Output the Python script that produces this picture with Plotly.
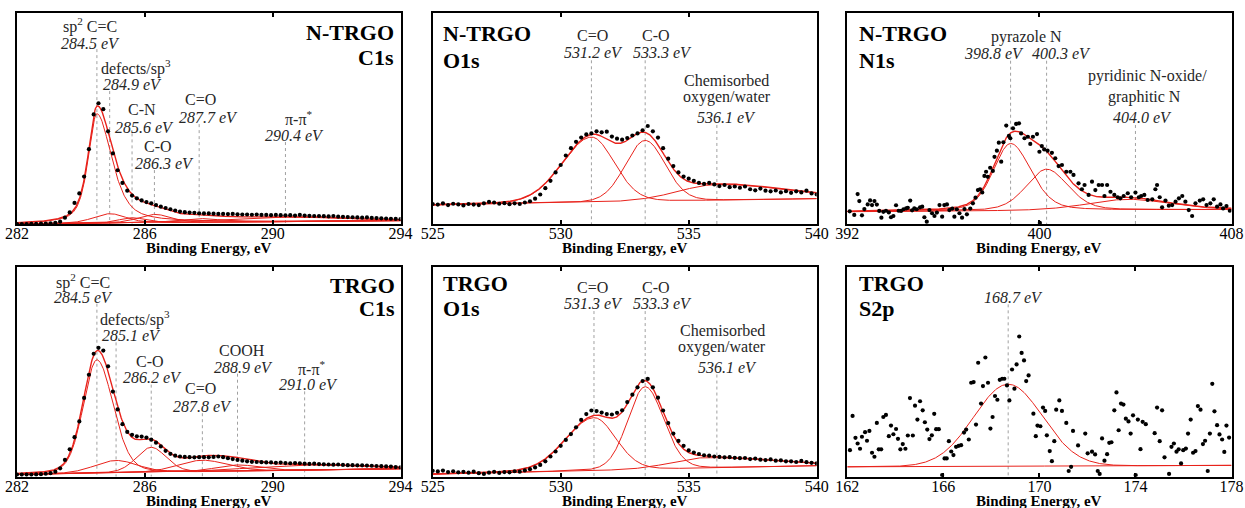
import numpy as np
import plotly.graph_objects as go

FONT = "Liberation Serif"
RED = "#e8221b"
TXT = "#262626"

# ---------------- measured spectra (intensity in % of panel height) ----------------
C1S_X = np.round(np.arange(282.0, 294.0 + 1e-9, 0.15), 2)
O1S_X = np.round(np.arange(525.0, 540.0 + 1e-9, 0.2), 2)

NTRGO_C1S_Y = [0.0, 0.0, 0.0, 0.1, 0.1, 0.2, 0.2, 0.3, 0.6, 1.1,
               3.0, 5.5, 10.0, 14.5, 22.5, 35.5, 52.0, 57.3, 54.5, 44.0,
               33.5, 25.5, 19.5, 15.8, 13.5, 12.2, 11.2, 10.4, 9.8, 9.0,
               8.2, 7.6, 7.0, 6.4, 5.9, 5.6, 5.4, 5.3, 5.1, 5.0,
               5.0, 4.9, 4.8, 4.8, 4.7, 4.8, 4.6, 4.5, 4.5, 4.4,
               4.5, 4.3, 4.3, 4.2, 4.3, 4.2, 4.1, 4.2, 4.0, 4.3,
               4.0, 3.9, 3.8, 3.8, 3.7, 3.6, 3.8, 3.5, 3.4, 3.3,
               3.2, 3.1, 3.0, 3.1, 2.9, 2.8, 2.7, 2.6, 2.5, 2.4,
               2.3]

TRGO_C1S_Y = [1.0, 1.0, 1.0, 1.0, 1.1, 1.2, 1.4, 1.7, 2.4, 4.0,
              8.0, 13.0, 18.8, 26.3, 37.5, 48.5, 58.5, 61.3, 60.0, 52.5,
              40.5, 32.0, 25.0, 21.3, 19.9, 19.2, 19.1, 18.6, 17.6, 16.2,
              14.4, 12.3, 10.9, 10.0, 9.6, 9.4, 9.3, 9.2, 9.3, 9.3,
              9.2, 9.4, 9.6, 9.3, 8.8, 8.4, 8.0, 7.6, 7.3, 7.1,
              7.0, 6.9, 6.8, 6.8, 6.6, 6.7, 6.5, 6.4, 6.5, 6.4,
              6.2, 6.1, 6.2, 6.0, 5.9, 5.8, 5.7, 5.8, 5.6, 5.5,
              5.5, 5.4, 5.4, 5.3, 5.2, 5.1, 5.0, 4.9, 4.8, 4.6,
              4.4]

NTRGO_O1S_Y = [9.5, 9.2, 9.8, 9.0, 9.6, 9.3, 8.8, 9.5, 9.2, 9.0,
               9.8, 10.5, 10.2, 9.6, 9.9, 9.4, 9.8, 9.5, 10.2, 10.8,
               12.0, 14.0, 17.0, 20.5, 24.5, 28.0, 32.5, 36.0, 39.0, 41.0,
               42.5, 43.0, 44.0, 43.5, 43.8, 41.5, 40.5, 40.0, 40.8, 42.0,
               43.0, 44.5, 46.5, 44.0, 41.0, 36.0, 31.0, 27.5, 24.5, 22.5,
               21.5, 20.5, 19.5, 19.0, 19.5, 18.8, 18.0, 18.5, 17.5, 17.8,
               17.2, 17.8, 16.5, 16.0, 16.8, 15.8, 15.5, 15.9, 15.0, 15.6,
               14.8, 15.5, 15.0, 15.8, 14.5, 14.0]

TRGO_O1S_Y = [2.8, 2.5, 2.9, 2.2, 2.6, 2.1, 2.3, 1.9, 2.4, 1.7,
              1.3, 1.9, 2.3, 1.8, 2.2, 2.1, 2.6, 2.4, 3.0, 3.6,
              4.4, 5.6, 7.3, 9.6, 12.0, 14.7, 17.5, 20.3, 23.5, 27.0,
              29.8, 31.5, 31.2, 30.5, 29.8, 29.6, 30.4, 31.6, 35.5, 39.0,
              42.5, 45.5, 46.5, 42.5, 37.6, 31.5, 25.5, 20.5, 17.0, 14.7,
              12.5, 11.5, 10.8, 10.2, 10.0, 9.6, 9.4, 9.2, 9.3, 9.0,
              8.8, 8.9, 8.4, 8.6, 8.1, 7.9, 8.2, 7.6, 7.8, 7.3,
              7.3, 7.0, 7.5, 6.9, 6.6, 6.3]

N1S_X = [392.1, 392.29, 392.43, 392.5, 392.61, 392.71, 392.85, 392.95, 393.03, 393.13,
         393.23, 393.33, 393.42, 393.5, 393.61, 393.73, 393.82, 393.92, 394.03, 394.14,
         394.24, 394.34, 394.45, 394.52, 394.62, 394.7, 394.79, 394.89, 395.03, 395.12,
         395.21, 395.31, 395.42, 395.53, 395.63, 395.73, 395.84, 395.95, 396.04, 396.15,
         396.25, 396.37, 396.46, 396.56, 396.67, 396.78, 396.88, 396.98, 397.12, 397.23,
         397.34, 397.44, 397.53, 397.62, 397.71, 397.78, 397.85, 397.95, 398.06, 398.13,
         398.23, 398.31, 398.41, 398.5, 398.62, 398.73, 398.79, 398.9, 399.03, 399.15,
         399.24, 399.38, 399.52, 399.62, 399.73, 399.9, 400.0, 400.02, 400.1, 400.2,
         400.34, 400.52, 400.66, 400.8, 400.94, 401.12, 401.29, 401.42, 401.63, 401.77,
         401.88, 402.05, 402.19, 402.33, 402.47, 402.61, 402.71, 402.82, 402.96, 403.12,
         403.26, 403.37, 403.51, 403.68, 403.82, 404.0, 404.14, 404.24, 404.37, 404.51,
         404.7, 404.83, 404.9, 405.01, 405.11, 405.25, 405.39, 405.53, 405.67, 405.81,
         405.95, 406.08, 406.22, 406.36, 406.5, 406.68, 406.82, 406.96, 407.12, 407.26,
         407.4, 407.54, 407.65, 407.79, 407.93]
N1S_Y = [6.0, 4.3, 14.2, 10.9, 4.1, 7.1, 9.3, 11.2, 9.0, 10.9,
         9.2, 6.2, 3.0, 5.8, 6.3, 5.5, 3.2, 3.8, 8.9, 6.3,
         6.2, 7.0, 7.4, 7.7, 11.1, 6.5, 7.4, 7.0, 7.9, 8.2,
         3.2, 1.1, 6.6, 5.1, 3.8, 5.4, 9.0, 3.5, 9.0, 9.3,
         6.6, 7.3, 3.5, 7.0, 5.1, 3.0, 7.1, 4.6, 7.3, 9.8,
         12.5, 16.1, 16.5, 15.0, 22.8, 24.8, 22.4, 26.7, 25.2, 31.9,
         34.8, 38.6, 29.6, 38.8, 46.7, 41.8, 40.7, 45.4, 47.5, 47.8,
         43.0, 40.7, 41.4, 38.0, 41.4, 42.7, 34.3, 0.6, 37.0, 35.4,
         34.8, 33.8, 31.2, 27.5, 28.0, 24.8, 24.8, 23.3, 19.3, 16.5,
         18.5, 13.8, 20.1, 16.1, 18.5, 18.5, 13.3, 18.5, 15.3, 13.8,
         12.7, 12.2, 13.3, 14.6, 12.7, 14.9, 12.7, 13.3, 13.8, 11.4,
         11.7, 16.5, 18.5, 12.7, 7.9, 11.1, 8.7, 9.0, 10.6, 12.2,
         13.3, 10.6, 6.6, 3.8, 9.8, 11.1, 11.7, 9.0, 9.8, 11.7,
         8.2, 9.3, 7.4, 8.5, 6.3]

S2P_X = [162.11, 162.22, 162.34, 162.43, 162.53, 162.61, 162.74, 162.82, 162.92, 163.03,
         163.13, 163.23, 163.31, 163.41, 163.5, 163.61, 163.73, 163.82, 163.92, 164.03,
         164.11, 164.21, 164.31, 164.42, 164.52, 164.61, 164.73, 164.82, 164.92, 165.03,
         165.14, 165.23, 165.33, 165.42, 165.52, 165.62, 165.7, 165.81, 165.95, 166.05,
         166.14, 166.23, 166.33, 166.42, 166.53, 166.64, 166.74, 166.86, 166.95, 167.06,
         167.16, 167.26, 167.36, 167.45, 167.57, 167.65, 167.75, 167.86, 167.96, 168.05,
         168.15, 168.25, 168.35, 168.45, 168.54, 168.65, 168.75, 168.86, 168.96, 169.05,
         169.16, 169.26, 169.36, 169.45, 169.55, 169.75, 169.85, 169.92, 170.04, 170.15,
         170.24, 170.31, 170.43, 170.52, 170.62, 170.7, 170.83, 170.94, 171.12, 171.22,
         171.32, 171.4, 171.61, 171.91, 172.01, 172.19, 172.32, 172.43, 172.51, 172.61,
         172.71, 172.82, 172.91, 173.0, 173.12, 173.21, 173.3, 173.4, 173.5, 173.6,
         173.71, 173.8, 173.9, 174.01, 174.1, 174.21, 174.3, 174.43, 174.8, 174.9,
         175.01, 175.11, 175.21, 175.4, 175.5, 175.6, 175.71, 175.8, 175.9, 175.99,
         176.1, 176.19, 176.3, 176.4, 176.5, 176.6, 176.71, 176.81, 176.9, 177.01,
         177.1, 177.2, 177.29, 177.4, 177.5, 177.61, 177.7, 177.79, 177.9]
S2P_Y = [12.6, 28.9, 18.5, 15.8, 13.3, 19.0, 21.2, 17.1, 21.8, 11.4,
         9.5, 25.6, 13.0, 13.0, 28.4, 29.4, 19.3, 24.3, 20.2, 22.7,
         18.0, 13.0, 15.5, 13.3, 19.6, 37.4, 19.6, 33.8, 27.2, 35.9,
         31.6, 25.9, 22.4, 17.9, 19.7, 29.9, 22.6, 22.6, 0.8, 8.7,
         8.7, 16.9, 12.0, 10.3, 14.2, 14.7, 15.0, 21.0, 22.4, 17.7,
         44.7, 45.0, 24.8, 54.2, 34.8, 43.1, 56.7, 44.7, 22.9, 28.4,
         38.4, 36.6, 46.1, 46.6, 46.6, 43.4, 36.3, 51.0, 41.9, 53.4,
         66.7, 58.9, 55.3, 45.5, 48.2, 30.0, 19.3, 24.3, 24.0, 32.9,
         31.3, 19.7, 12.2, 7.4, 16.9, 31.9, 36.3, 31.3, 25.6, 2.7,
         4.7, 21.8, 14.9, 20.5, 11.1, 11.9, 10.6, 2.7, 1.3, 18.2,
         7.6, 10.7, 16.1, 16.4, 31.6, 40.1, 22.1, 34.8, 34.3, 27.6,
         26.3, 20.5, 29.2, 0.8, 27.2, 13.1, 26.1, 25.0, 20.7, 32.9,
         16.9, 31.6, 9.2, 1.3, 14.2, 15.8, 11.9, 13.0, 6.3, 12.6,
         13.4, 20.5, 27.2, 11.4, 12.2, 33.6, 31.9, 15.5, 17.1, 2.7,
         20.5, 44.2, 31.1, 24.5, 20.1, 17.7, 11.8, 24.3, 18.6]

# ---------------- fitted components: centre, height, left/right HWHM, Lorentz fraction ----------------
NTRGO_C1S_CENTERS = [284.5, 284.9, 285.6, 286.3, 287.7, 290.4]
NTRGO_C1S_HEIGHTS = [52.0, 4.5, 2.5, 4.0, 1.8, 2.2]
NTRGO_C1S_WL = [0.32, 0.6, 0.5, 0.6, 0.8, 2.0]
NTRGO_C1S_WR = [0.55, 0.6, 0.5, 0.6, 0.8, 2.0]
NTRGO_C1S_MIX = [0.6, 0.3, 0.3, 0.3, 0.3, 0.3]
NTRGO_C1S_BG = [0.0, 1.6]

NTRGO_O1S_CENTERS = [531.2, 533.3, 536.1]
NTRGO_O1S_HEIGHTS = [31.0, 29.0, 7.5]
NTRGO_O1S_WL = [1.35, 0.92, 1.8]
NTRGO_O1S_WR = [1.05, 0.92, 3.2]
NTRGO_O1S_MIX = [0.1, 0.1, 0.1]
NTRGO_O1S_BG = [9.0, 12.0]

NTRGO_N1S_CENTERS = [398.8, 400.3, 403.7]
NTRGO_N1S_HEIGHTS = [32.0, 19.7, 5.2]
NTRGO_N1S_WL = [0.85, 1.0, 2.0]
NTRGO_N1S_WR = [1.0, 1.05, 2.0]
NTRGO_N1S_MIX = [0.3, 0.3, 0.3]
NTRGO_N1S_BG = [5.8, 6.8]

TRGO_C1S_CENTERS = [284.5, 285.1, 286.2, 287.8, 288.9, 291.0]
TRGO_C1S_HEIGHTS = [54.0, 6.0, 12.0, 5.5, 3.0, 2.5]
TRGO_C1S_WL = [0.5, 0.8, 0.55, 0.9, 0.8, 2.0]
TRGO_C1S_WR = [0.6, 0.8, 0.55, 0.9, 0.8, 2.0]
TRGO_C1S_MIX = [0.2, 0.2, 0.2, 0.2, 0.2, 0.2]
TRGO_C1S_BG = [1.0, 3.8]

TRGO_O1S_CENTERS = [531.3, 533.3, 535.6]
TRGO_O1S_HEIGHTS = [25.2, 39.4, 5.0]
TRGO_O1S_WL = [1.3, 0.8, 1.5]
TRGO_O1S_WR = [1.0, 0.85, 3.0]
TRGO_O1S_MIX = [0.1, 0.1, 0.1]
TRGO_O1S_BG = [1.2, 5.2]

TRGO_S2P_CENTERS = [168.7]
TRGO_S2P_HEIGHTS = [39.0]
TRGO_S2P_WL = [1.68]
TRGO_S2P_WR = [1.68]
TRGO_S2P_MIX = [0.0]
TRGO_S2P_BG = [4.7, 5.4]

# ---------------- tick labels ----------------
C1S_TICKS = [282, 286, 290, 294]
O1S_TICKS = [525, 530, 535, 540]
N1S_TICKS = [392, 400, 408]
S2P_TICKS = [162, 166, 170, 174, 178]

# ---------------- annotations (x in eV, y in % of panel height) ----------------
N, E = "name", "energy"
P1_LABELS = [(293.87, 91.0, "N-TRGO", "tr"), (293.87, 79.1, "C1s", "tr"),
             (284.29, 94.3, "sp<sup>2</sup> C=C", N), (284.29, 85.8, "284.5 eV", E),
             (285.72, 74.3, "defects/sp<sup>3</sup>", N), (285.62, 66.2, "284.9 eV", E),
             (285.9, 54.5, "C-N", N), (285.98, 46.0, "285.6 eV", E),
             (286.4, 37.0, "C-O", N), (286.6, 28.9, "286.3 eV", E),
             (287.73, 59.2, "C=O", N), (288.0, 50.7, "287.7 eV", E),
             (290.8, 50.4, "π-π<sup>*</sup>", N), (290.68, 42.2, "290.4 eV", E)]
P1_LINES = [(284.5, 83.0), (284.9, 63.1), (285.6, 43.0), (286.3, 25.6), (287.7, 47.4), (290.4, 38.9)]

P2_LABELS = [(525.31, 90.4, "N-TRGO", "tl"), (525.31, 77.7, "O1s", "tl"),
             (531.24, 89.6, "C=O", N), (531.3, 81.2, "531.2 eV", E),
             (533.72, 89.6, "C-O", N), (533.96, 81.2, "533.3 eV", E),
             (536.48, 68.2, "Chemisorbed", N), (536.48, 60.3, "oxygen/water", N),
             (536.48, 50.6, "536.1 eV", E)]
P2_LINES = [(531.2, 77.7), (533.3, 77.7), (536.1, 47.0)]

P3_LABELS = [(392.39, 90.4, "N-TRGO", "tl"), (392.39, 77.7, "N1s", "tl"),
             (399.48, 88.8, "pyrazole N", N), (398.09, 80.9, "398.8 eV", E),
             (400.94, 80.9, "400.3 eV", E),
             (404.51, 70.3, "pyridinic N-oxide/", N), (404.36, 60.3, "graphitic N", N),
             (404.29, 50.6, "404.0 eV", E)]
P3_LINES = [(398.8, 77.5), (400.3, 77.5), (404.0, 47.0)]

P4_LABELS = [(293.88, 91.0, "TRGO", "tr"), (293.88, 79.9, "C1s", "tr"),
             (284.05, 93.0, "sp<sup>2</sup> C=C", N), (284.08, 85.4, "284.5 eV", E),
             (285.69, 75.5, "defects/sp<sup>3</sup>", N), (285.59, 67.0, "285.1 eV", E),
             (286.15, 55.0, "C-O", N), (286.23, 47.0, "286.2 eV", E),
             (287.73, 41.8, "C=O", N), (287.79, 33.3, "287.8 eV", E),
             (289.05, 60.0, "COOH", N), (289.09, 52.1, "288.9 eV", E),
             (291.2, 51.5, "π-π<sup>*</sup>", N), (291.13, 43.8, "291.0 eV", E)]
P4_LINES = [(284.5, 82.3), (285.1, 63.9), (286.2, 43.8), (287.8, 30.2), (288.9, 49.0), (291.0, 40.6)]

P5_LABELS = [(525.31, 91.8, "TRGO", "tl"), (525.31, 79.9, "O1s", "tl"),
             (531.24, 90.2, "C=O", N), (531.3, 82.2, "531.3 eV", E),
             (533.73, 90.2, "C-O", N), (533.98, 82.2, "533.3 eV", E),
             (536.31, 69.6, "Chemisorbed", N), (536.31, 61.6, "oxygen/water", N),
             (536.5, 52.1, "536.1 eV", E)]
P5_LINES = [(531.3, 78.8), (533.3, 78.8), (536.1, 48.6)]

P6_LABELS = [(162.39, 92.1, "TRGO", "tl"), (162.39, 79.9, "S2p", "tl"),
             (168.92, 85.4, "168.7 eV", E)]
P6_LINES = [(168.7, 82.0)]


def peak(x, c, h, wl, wr, m):
    w = np.where(x < c, wl, wr)
    u = (x - c) / w
    return h * ((1 - m) * np.exp(-np.log(2) * u ** 2) + m / (1 + u ** 2))


PANELS = [
    dict(rng=(282, 294), ticks=C1S_TICKS, x=C1S_X, y=NTRGO_C1S_Y,
         pk=(NTRGO_C1S_CENTERS, NTRGO_C1S_HEIGHTS, NTRGO_C1S_WL, NTRGO_C1S_WR, NTRGO_C1S_MIX),
         bg=NTRGO_C1S_BG, labels=P1_LABELS, lines=P1_LINES, row=0, col=0),
    dict(rng=(525, 540), ticks=O1S_TICKS, x=O1S_X, y=NTRGO_O1S_Y,
         pk=(NTRGO_O1S_CENTERS, NTRGO_O1S_HEIGHTS, NTRGO_O1S_WL, NTRGO_O1S_WR, NTRGO_O1S_MIX),
         bg=NTRGO_O1S_BG, labels=P2_LABELS, lines=P2_LINES, row=0, col=1),
    dict(rng=(392, 408), ticks=N1S_TICKS, x=N1S_X, y=N1S_Y,
         pk=(NTRGO_N1S_CENTERS, NTRGO_N1S_HEIGHTS, NTRGO_N1S_WL, NTRGO_N1S_WR, NTRGO_N1S_MIX),
         bg=NTRGO_N1S_BG, labels=P3_LABELS, lines=P3_LINES, row=0, col=2),
    dict(rng=(282, 294), ticks=C1S_TICKS, x=C1S_X, y=TRGO_C1S_Y,
         pk=(TRGO_C1S_CENTERS, TRGO_C1S_HEIGHTS, TRGO_C1S_WL, TRGO_C1S_WR, TRGO_C1S_MIX),
         bg=TRGO_C1S_BG, labels=P4_LABELS, lines=P4_LINES, row=1, col=0),
    dict(rng=(525, 540), ticks=O1S_TICKS, x=O1S_X, y=TRGO_O1S_Y,
         pk=(TRGO_O1S_CENTERS, TRGO_O1S_HEIGHTS, TRGO_O1S_WL, TRGO_O1S_WR, TRGO_O1S_MIX),
         bg=TRGO_O1S_BG, labels=P5_LABELS, lines=P5_LINES, row=1, col=1),
    dict(rng=(162, 178), ticks=S2P_TICKS, x=S2P_X, y=S2P_Y,
         pk=(TRGO_S2P_CENTERS, TRGO_S2P_HEIGHTS, TRGO_S2P_WL, TRGO_S2P_WR, TRGO_S2P_MIX),
         bg=TRGO_S2P_BG, labels=P6_LABELS, lines=P6_LINES, row=1, col=2),
]

W, H = 1245, 508
XDOM_PX = [(17.0, 400.5), (432.7, 816.7), (847.3, 1231.5)]
YDOM_PX = [(13.3, 224.0), (266.5, 476.7)]

fig = go.Figure()
layout = dict(width=W, height=H, margin=dict(l=0, r=0, t=0, b=0, autoexpand=False),
              paper_bgcolor="white", plot_bgcolor="white", showlegend=False,
              annotations=[], shapes=[])

for i, p in enumerate(PANELS):
    n = "" if i == 0 else str(i + 1)
    xa, ya = "x" + n, "y" + n
    x0p, x1p = XDOM_PX[p["col"]]
    y0p, y1p = YDOM_PX[p["row"]]
    layout["xaxis" + n] = dict(
        domain=[x0p / W, x1p / W], range=list(p["rng"]), anchor=ya, automargin=False,
        showline=True, linecolor="black", linewidth=2, mirror="ticks",
        ticks="inside", ticklen=4, tickwidth=1.5, tickcolor="black",
        tickvals=p["ticks"], ticktext=[str(t) for t in p["ticks"]],
        ticklabelstandoff=-6,
        showgrid=False, zeroline=False,
        tickfont=dict(family=FONT, size=16, color="black"))
    layout["yaxis" + n] = dict(
        domain=[1 - y1p / H, 1 - y0p / H], range=[0, 100], anchor=xa, automargin=False,
        showline=True, linecolor="black", linewidth=2, mirror=True,
        showticklabels=False, ticks="", showgrid=False, zeroline=False)

    xf = np.linspace(p["rng"][0], p["rng"][1], 700)
    b0, b1 = p["bg"]
    bg = b0 + (b1 - b0) * (xf - p["rng"][0]) / (p["rng"][1] - p["rng"][0])
    total = bg.copy()
    for c, h, wl, wr, m in zip(*p["pk"]):
        comp = peak(xf, c, h, wl, wr, m)
        total = total + comp
        fig.add_trace(go.Scatter(x=xf, y=bg + comp, mode="lines", xaxis=xa, yaxis=ya,
                                 line=dict(color=RED, width=1), hoverinfo="skip"))
    if len(p["pk"][0]) > 1:
        fig.add_trace(go.Scatter(x=xf, y=total, mode="lines", xaxis=xa, yaxis=ya,
                                 line=dict(color=RED, width=1.4), hoverinfo="skip"))
    else:
        fig.add_trace(go.Scatter(x=xf, y=bg, mode="lines", xaxis=xa, yaxis=ya,
                                 line=dict(color=RED, width=1), hoverinfo="skip"))
    fig.add_trace(go.Scatter(x=p["x"], y=p["y"], mode="markers", xaxis=xa, yaxis=ya,
                             marker=dict(color="black", size=4.2), hoverinfo="skip"))

    for ex, ys in p["lines"]:
        layout["shapes"].append(dict(type="line", xref=xa, yref=ya, x0=ex, x1=ex, y0=ys, y1=0,
                                     line=dict(color="#a0a0a0", width=1, dash="dot"), layer="below"))

    for lx, ly, txt, kind in p["labels"]:
        if kind in ("tl", "tr"):
            layout["annotations"].append(dict(
                x=lx, y=ly, xref=xa, yref=ya, text="<b>" + txt + "</b>", showarrow=False,
                xanchor="left" if kind == "tl" else "right", yanchor="middle",
                font=dict(family=FONT, size=22, color="black")))
        else:
            t = "<i>" + txt + "</i>" if kind == E else txt
            layout["annotations"].append(dict(
                x=lx, y=ly, xref=xa, yref=ya, text=t, showarrow=False,
                xanchor="center", yanchor="middle",
                font=dict(family=FONT, size=16, color=TXT)))

    layout["annotations"].append(dict(
        x=0.5, y=-24.0 / (y1p - y0p), xref=xa + " domain", yref=ya + " domain",
        text="<b>Binding Energy, eV</b>", showarrow=False, xanchor="center", yanchor="middle",
        font=dict(family=FONT, size=15, color="black")))

fig.update_layout(**layout)
# the page's default 8px body margin would shift the figure; remove it
fig.write_html("out.html", config={"displayModeBar": False},
               post_script="document.body.style.margin='0';document.body.style.overflow='hidden';")
